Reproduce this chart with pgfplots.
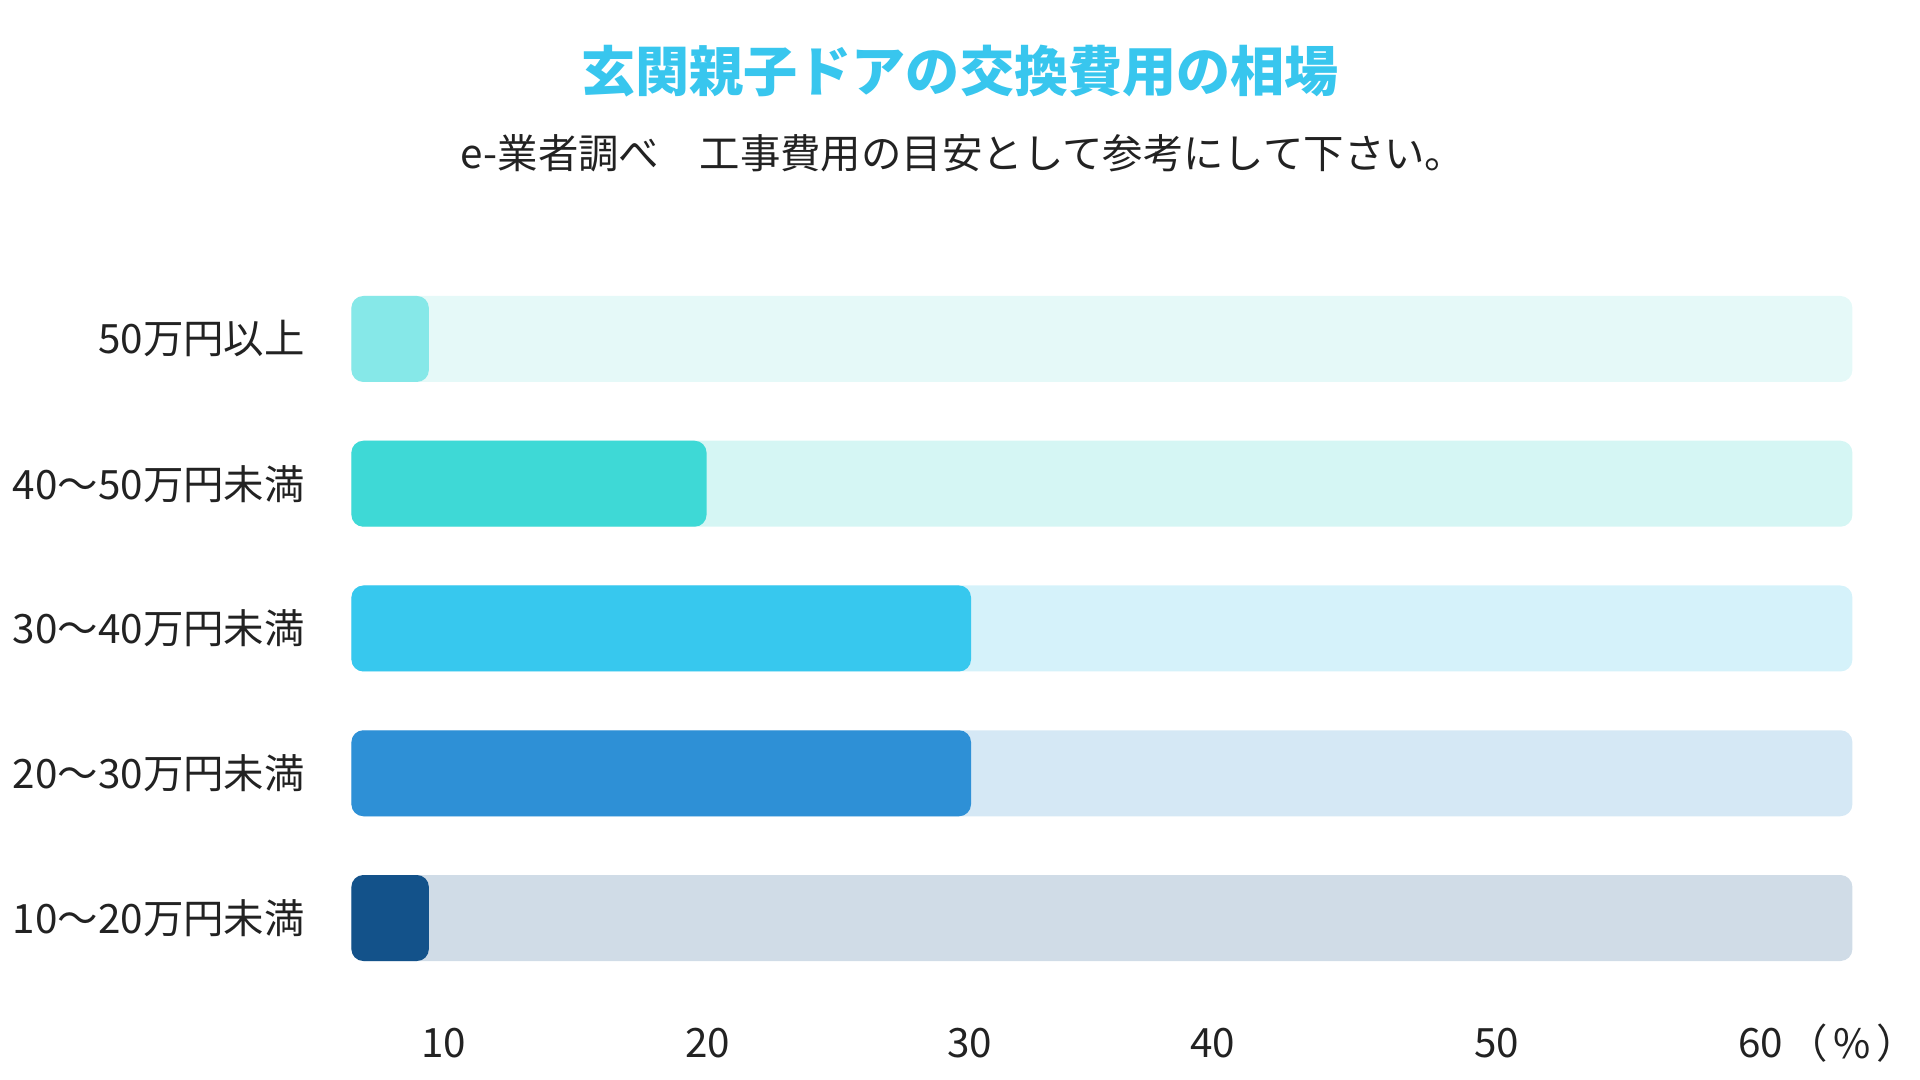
\documentclass[border=0pt]{standalone}
\usepackage{pgfplots}
\pgfplotsset{compat=1.18}
\usepackage{fontspec}
\setmainfont{Noto Sans CJK JP}
\definecolor{titlec}{HTML}{38C6EE}
\definecolor{txt}{HTML}{222222}
% bar / track colours, top to bottom
\definecolor{fgA}{HTML}{86E8E8}
\definecolor{bgA}{HTML}{E5F9F8}
\definecolor{fgB}{HTML}{3ED9D6}
\definecolor{bgB}{HTML}{D5F6F4}
\definecolor{fgC}{HTML}{37C8EE}
\definecolor{bgC}{HTML}{D5F2FA}
\definecolor{fgD}{HTML}{2E90D6}
\definecolor{bgD}{HTML}{D5E8F5}
\definecolor{fgE}{HTML}{13528A}
\definecolor{bgE}{HTML}{D0DCE7}
\newcommand{\lblfont}{\fontsize{11.5}{14}\selectfont}
\begin{document}
\begin{tikzpicture}[x=1mm,y=1mm]
\useasboundingbox (0,0) rectangle (192,108);
\node[text=titlec, font=\fontsize{15.4}{18}\selectfont\bfseries] at (96,100.9) {玄関親子ドアの交換費用の相場};
\node[text=txt, font=\lblfont] at (96.3,92.7) {e-業者調べ　工事費用の目安として参考にして下さい。};
\begin{axis}[
    at={(35.14mm,8.96mm)}, anchor=south west,
    scale only axis, width=150.1mm, height=72.38mm,
    xmin=0, xmax=56.76, ymin=-0.5, ymax=4.5,
    x filter/.expression={x-6.57},
    xbar, bar width=8.6mm, bar shift=0pt,
    axis line style={draw=none}, tick style={draw=none},
    ytick={0,...,4},
    yticklabels={10～20万円未満,20～30万円未満,30～40万円未満,40～50万円未満,50万円以上},
    yticklabel style={anchor=east, inner sep=0pt, xshift=-3.1mm, text=txt, font=\lblfont},
    xtick={3.50,13.48,23.39,32.57,43.31,53.29},
    xticklabels={10,20,30,40,50,60},
    xticklabel style={anchor=center, inner sep=0pt, yshift=-5.26mm, text=txt, font=\lblfont},
    clip=false,
    every axis plot/.append style={draw=none, rounded corners=1.2mm},
  ]
  % tracks
  \addplot[fill=bgA] coordinates {(63.33,4)};
  \addplot[fill=bgB] coordinates {(63.33,3)};
  \addplot[fill=bgC] coordinates {(63.33,2)};
  \addplot[fill=bgD] coordinates {(63.33,1)};
  \addplot[fill=bgE] coordinates {(63.33,0)};
  % values
  \addplot[fill=fgA] coordinates {(9.5,4)};
  \addplot[fill=fgB] coordinates {(20,3)};
  \addplot[fill=fgC] coordinates {(30,2)};
  \addplot[fill=fgD] coordinates {(30,1)};
  \addplot[fill=fgE] coordinates {(9.5,0)};
\end{axis}
\node[text=txt, font=\lblfont, inner sep=0pt, anchor=east] at (191.8,3.7) {（\hspace{0.15em}\%\hspace{0.15em}）};
\end{tikzpicture}
\end{document}
